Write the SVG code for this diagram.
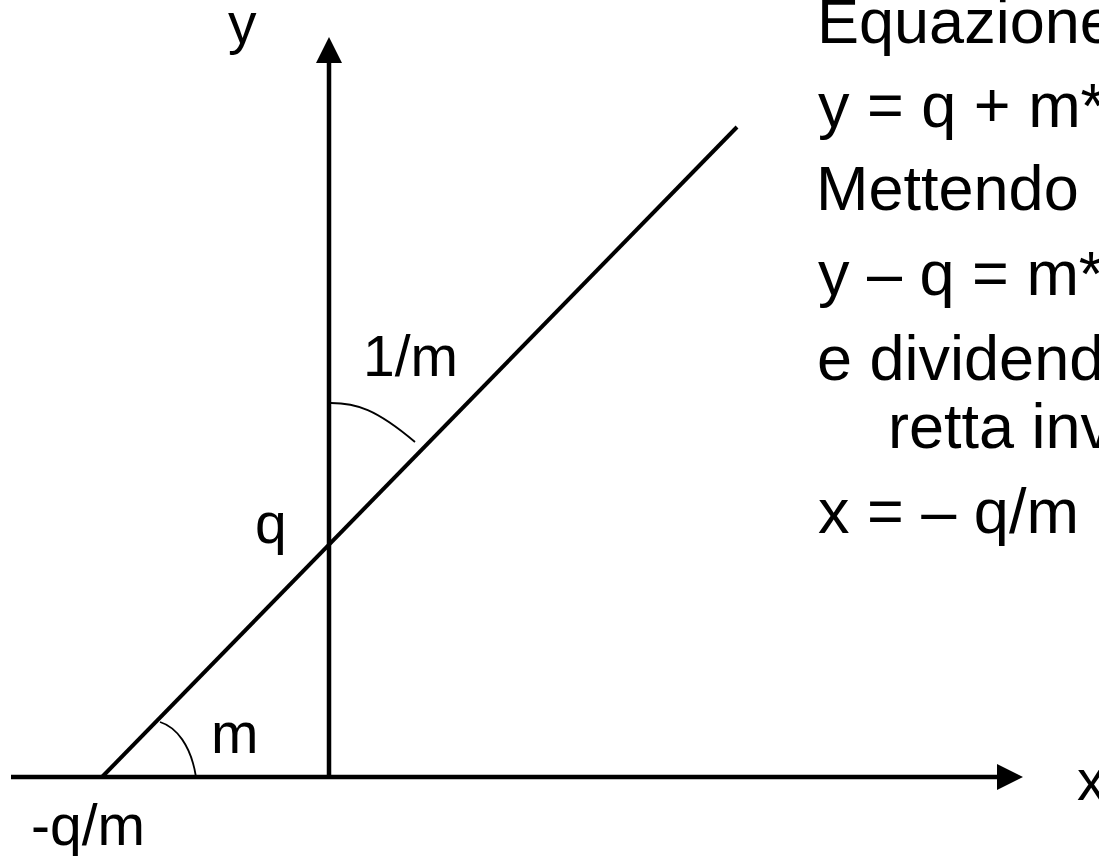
<svg xmlns="http://www.w3.org/2000/svg" width="1099" height="856" viewBox="0 0 1099 856">
<style>
.ax{stroke:#000;stroke-width:4.5;fill:none}
.ln{stroke:#000;stroke-width:4;fill:none}
.arc{stroke:#000;stroke-width:1.8;fill:none}
.lbl{font-family:"Liberation Sans",Arial,sans-serif;font-size:57px;fill:#000}
.txt{font-family:"Liberation Sans",Arial,sans-serif;font-size:63px;fill:#000}
</style>
<rect width="1099" height="856" fill="#fff"/>
<g id="connectors">
<line class="ax" x1="11" y1="777" x2="999" y2="777"/>
<polygon points="997,764 1023,777 997,790" fill="#000"/>
<line class="ax" x1="329" y1="777" x2="329" y2="61"/>
<polygon points="316,63 329,37 342,63" fill="#000"/>
<line class="ln" x1="102" y1="777" x2="737" y2="127"/>
<path class="arc" d="M160,722 C176,727 191,745 196,777"/>
<path class="arc" d="M331,403 C356,403 376,409 415,442"/>
</g>
<g id="labels">
<text class="lbl" x="228" y="43">y</text>
<text class="lbl" x="363" y="376">1/m</text>
<text class="lbl" x="255" y="543">q</text>
<text class="lbl" x="211" y="753">m</text>
<text class="lbl" x="31" y="845">-q/m</text>
<text class="lbl" x="1077" y="800">x</text>
</g>
<g id="equations">
<text class="txt" x="817" y="43">Equazione</text>
<text class="txt" x="818" y="127">y = q + m*</text>
<text class="txt" x="816" y="210">Mettendo</text>
<text class="txt" x="818" y="295">y – q = m*</text>
<text class="txt" x="817" y="380">e dividendo</text>
<text class="txt" x="888" y="448">retta inv</text>
<text class="txt" x="818" y="533">x = – q/m</text>
</g>
</svg>
